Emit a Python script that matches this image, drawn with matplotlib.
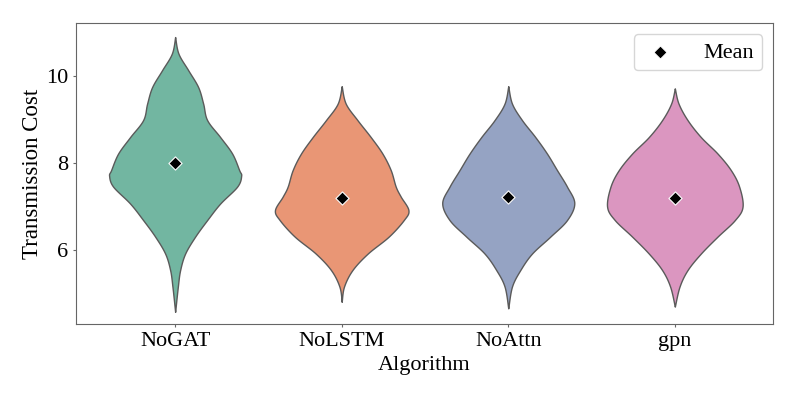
import numpy as np
import matplotlib
matplotlib.use('Agg')
import matplotlib.pyplot as plt
import seaborn as sns

algorithms = ['NoGAT', 'NoLSTM', 'NoAttn', 'gpn']
means = [8.0, 7.2, 7.21, 7.2]

# violin outlines: cost level -> half width (pixels of the original)
nogat_y = [10.90, 10.52, 10.14, 9.75, 9.37, 8.99, 8.60, 8.22, 7.84, 7.71, 7.46, 7.07, 6.69, 6.31, 5.92, 5.54, 5.16, 4.58]
nogat_w = [0, 3.3, 13, 23, 28, 32, 45, 57, 64, 66, 62, 45, 32, 20, 10, 5, 2.7, 0]
nolstm_y = [9.77, 9.37, 8.99, 8.60, 8.22, 7.84, 7.46, 7.23, 6.92, 6.69, 6.31, 5.92, 5.54, 5.16, 4.81]
nolstm_w = [0, 4, 15.7, 29, 40.7, 49, 54, 59, 66.7, 62, 47, 26, 10.7, 2.3, 0]
noattn_y = [9.77, 9.37, 8.99, 8.60, 8.22, 7.84, 7.46, 7.08, 6.69, 6.31, 5.92, 5.54, 5.16, 4.66]
noattn_w = [0, 3.7, 13.7, 27, 38.7, 48.7, 58.7, 66, 58.7, 42, 23.7, 12, 3.7, 0]
gpn_y = [9.72, 9.37, 8.99, 8.60, 8.22, 7.84, 7.46, 7.00, 6.69, 6.31, 5.92, 5.54, 5.16, 4.70]
gpn_w = [0, 3.7, 12.7, 26, 42.7, 56, 64.3, 67.7, 60, 42.7, 26, 12.7, 4.7, 0]

profiles = [(nogat_y, nogat_w), (nolstm_y, nolstm_w), (noattn_y, noattn_w), (gpn_y, gpn_w)]
px_per_unit = 166.5


def smooth_outline(ys, ws, n=20):
    # Catmull-Rom curve through the read points, just for drawing
    p = np.column_stack([ys, ws]).astype(float)
    p = np.vstack([p[0], p, p[-1]])
    out = []
    t = np.linspace(0, 1, n, endpoint=False)[:, None]
    for k in range(1, len(p) - 2):
        p0, p1, p2, p3 = p[k - 1], p[k], p[k + 1], p[k + 2]
        seg = 0.5 * ((2 * p1) + (-p0 + p2) * t + (2 * p0 - 5 * p1 + 4 * p2 - p3) * t ** 2
                     + (-p0 + 3 * p1 - 3 * p2 + p3) * t ** 3)
        out.append(seg)
    out.append(p[-2][None, :])
    out = np.vstack(out)
    return out[:, 0], np.clip(out[:, 1], 0, None)


plt.rcParams['font.family'] = ['Liberation Serif', 'DejaVu Serif']
colors = sns.color_palette('Set2', 4, desat=0.75)

fig = plt.figure(figsize=(7.97, 3.99), dpi=100)
ax = fig.add_axes([0.0954, 0.188, 0.8746, 0.754])

for i, (ys, ws) in enumerate(profiles):
    yy, ww = smooth_outline(ys, ws)
    hw = ww / px_per_unit
    ax.fill_betweenx(yy, i - hw, i + hw, facecolor=colors[i], edgecolor='#5a5a5a',
                     linewidth=1.0, zorder=2)

ax.scatter(range(len(algorithms)), means, marker='D', s=45, color='black',
           edgecolor='white', linewidth=0.8, zorder=3, label='Mean')

ax.set_xlim(-0.595, 3.59)
ax.set_ylim(4.3, 11.22)
ax.set_xticks(range(len(algorithms)))
ax.set_xticklabels(algorithms)
ax.set_yticks([6, 8, 10])
ax.tick_params(labelsize=16, length=2.2, colors='#666666', labelcolor='black')
ax.set_xlabel('Algorithm', fontsize=16, labelpad=4)
ax.set_ylabel('Transmission Cost', fontsize=16.5, labelpad=2)
for s in ax.spines.values():
    s.set_color('#666666')

ax.legend(loc='upper right', fontsize=16, handlelength=1.7, handletextpad=1.1,
          borderpad=0.35, borderaxespad=0.5)

fig.savefig('out.png')
